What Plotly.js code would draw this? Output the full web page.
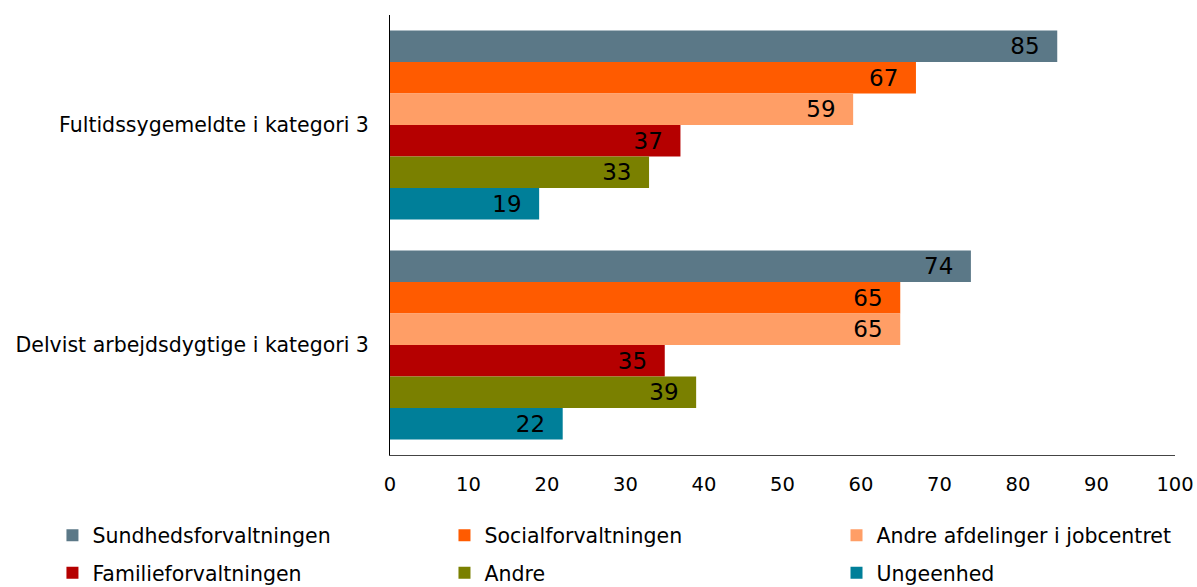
<!DOCTYPE html>
<html>
<head>
<meta charset="utf-8">
<script src="https://cdn.plot.ly/plotly-3.0.1.min.js"></script>
<style>html,body{margin:0;padding:0;background:#fff;}#chart{width:1197px;height:587px;}</style>
</head>
<body>
<div id="chart"></div>
<script>
const categories = ["Fultidssygemeldte i kategori 3", "Delvist arbejdsdygtige i kategori 3"];
const seriesNames = ["Sundhedsforvaltningen", "Socialforvaltningen", "Andre afdelinger i jobcentret", "Familieforvaltningen", "Andre", "Ungeenhed"];
const sundheds = [85, 74];
const social = [67, 65];
const andreAfd = [59, 65];
const familie = [37, 35];
const andre = [33, 39];
const unge = [19, 22];
const xTicks = [0, 10, 20, 30, 40, 50, 60, 70, 80, 90, 100];

const seriesValues = [sundheds, social, andreAfd, familie, andre, unge];
const colors = ["#5B7887", "#FF5B00", "#FF9E66", "#B50000", "#7A8000", "#007F99"];
const FONT = "DejaVu Sans, Verdana, sans-serif";

const legendIds = ["legend", "legend2", "legend3", "legend4", "legend5", "legend6"];
const colX = [-0.430, 0.0694, 0.5688];
const rowY = [-0.183, -0.268];

const traces = seriesValues.map((vals, i) => ({
  type: "bar",
  orientation: "h",
  name: seriesNames[i],
  y: categories,
  x: vals,
  marker: {color: colors[i]},
  text: vals.map(String),
  texttemplate: "%{text}\u00a0\u00a0",
  textposition: "inside",
  insidetextanchor: "end",
  textangle: 0,
  constraintext: "none",
  insidetextfont: {family: FONT, size: 23, color: "#000"},
  legend: legendIds[i],
  hoverinfo: "x+name"
}));

const layout = {
  width: 1197, height: 587,
  margin: {l: 390, r: 22, t: 15, b: 132, autoexpand: false},
  paper_bgcolor: "#fff",
  plot_bgcolor: "#fff",
  barmode: "group",
  bargap: 0.14,
  bargroupgap: 0,
  font: {family: FONT, size: 20, color: "#000"},
  xaxis: {
    range: [0, 100],
    tickvals: xTicks,
    ticktext: xTicks.map(String),
    showgrid: false,
    zeroline: false,
    showline: true,
    linecolor: "#444",
    linewidth: 1,
    ticks: "",
    ticklabelstandoff: 12,
    tickfont: {family: FONT, size: 19.5, color: "#000"},
    fixedrange: true
  },
  yaxis: {
    autorange: "reversed",
    showgrid: false,
    zeroline: false,
    showline: true,
    linecolor: "#000",
    linewidth: 1,
    ticks: "",
    ticklabelstandoff: 16,
    tickfont: {family: FONT, size: 20.5, color: "#000"},
    fixedrange: true
  },
  showlegend: true
};

legendIds.forEach((id, i) => {
  layout[id] = {
    orientation: "h",
    xref: "paper", yref: "paper",
    xanchor: "left", yanchor: "middle",
    x: colX[i % 3],
    y: rowY[Math.floor(i / 3)],
    font: {family: FONT, size: 20.5, color: "#000"},
    itemwidth: 30,
    bgcolor: "rgba(0,0,0,0)"
  };
});

Plotly.newPlot("chart", traces, layout, {displayModeBar: false, staticPlot: true});
</script>
</body>
</html>
